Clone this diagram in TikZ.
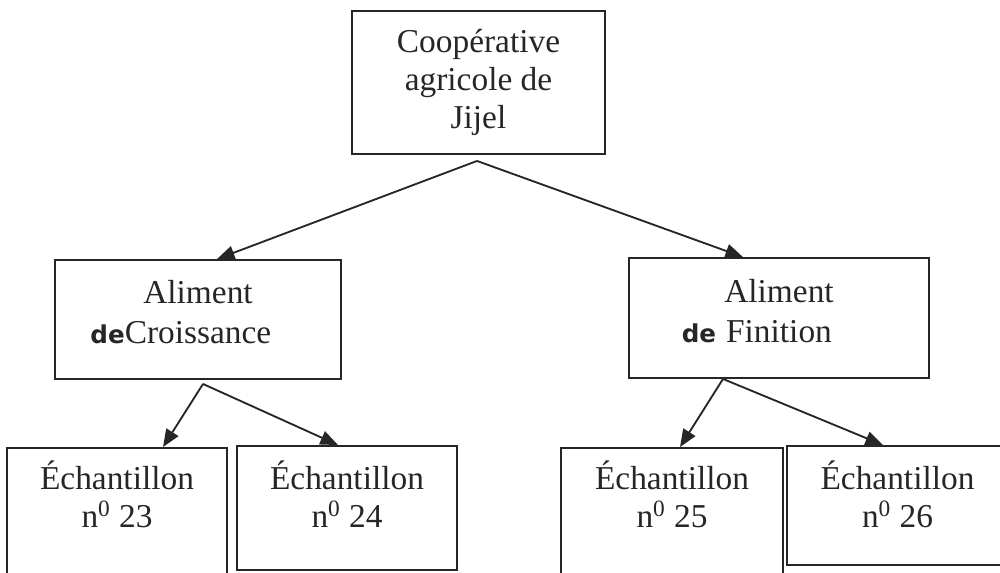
\documentclass[tikz,border=0pt]{standalone}
\usepackage{fontspec}
\setmainfont{Liberation Serif}
\newfontfamily\handfont{DejaVu Sans}
\usetikzlibrary{arrows.meta,calc}
\newcommand{\hand}[1]{{\handfont\bfseries\fontsize{14}{14}\selectfont #1}}
\newcommand{\lowpad}[1]{\rule[-#1]{0pt}{0pt}}
\begin{document}
\begin{tikzpicture}[x=0.02cm,y=-0.02cm,
  box/.style={draw=black!85, line width=1.1pt, rectangle, align=center, inner sep=0pt,
    text=black!85, font=\fontsize{19}{21.6}\selectfont},
  midbox/.style={box, font=\fontsize{19}{22.8}\selectfont},
  arr/.style={draw=black!85, line width=1.05pt, -{Triangle[length=10pt,width=8pt]}},
]
\useasboundingbox (0,0) rectangle (1000,572);
\fill[white] (0,0) rectangle (1000,572);

% boxes
\node[box, minimum width=5.06cm, minimum height=2.86cm] (coop) at (478.5,82.5)
  {Coopérative\\agricole de\\Jijel};
\node[midbox, minimum width=5.72cm, minimum height=2.38cm] (croiss) at (198,319.5)
  {Aliment\\\llap{\hand{de}}Croissance\lowpad{9.1pt}};
\node[midbox, minimum width=6.0cm, minimum height=2.4cm] (fin) at (779,318)
  {Aliment\\\llap{\hand{de}\hspace{5.7pt}}Finition\lowpad{8.5pt}};

\node[box, minimum width=4.4cm, minimum height=2.54cm] (e23) at (117,511.5)
  {Échantillon\\n\textsuperscript{0} 23\lowpad{19.9pt}};
\node[box, minimum width=4.4cm, minimum height=2.48cm] (e24) at (347,508)
  {Échantillon\\n\textsuperscript{0} 24\lowpad{15.9pt}};
\node[box, minimum width=4.44cm, minimum height=2.54cm] (e25) at (672,511.5)
  {Échantillon\\n\textsuperscript{0} 25\lowpad{19.9pt}};
\node[box, minimum width=4.42cm, minimum height=2.38cm] (e26) at (897.5,505.5)
  {Échantillon\\n\textsuperscript{0} 26\lowpad{13.1pt}};

% connector origins
\coordinate (s0) at ($(coop.south)+(-1.5,6)$);
\coordinate (s1) at ($(croiss.south)+(5,4)$);
\coordinate (s2) at ($(fin.south)+(-56,0)$);

% connectors
\draw[arr] (s0) -- ($(croiss.north)+(19,0)$);
\draw[arr] (s0) -- ($(fin.north)+(-36,0)$);
\draw[arr] (s1) -- ($(e23.north)+(46,0)$);
\draw[arr] (s1) -- ($(e24.north)+(-9,0)$);
\draw[arr] (s2) -- ($(e25.north)+(8,0)$);
\draw[arr] (s2) -- ($(e26.north)+(-14.5,0)$);
\end{tikzpicture}
\end{document}
